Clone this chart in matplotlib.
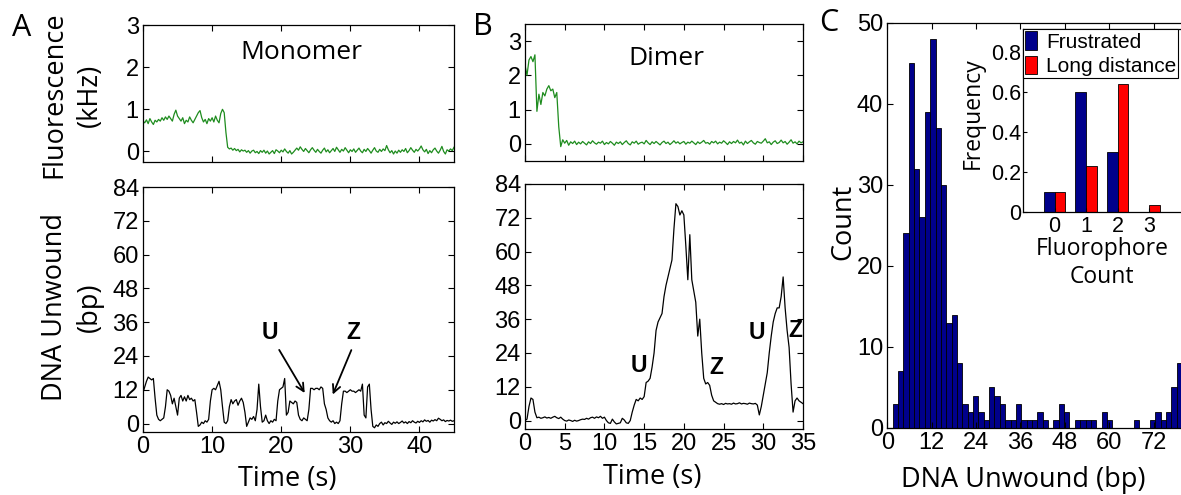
import numpy as np
import matplotlib
matplotlib.use('Agg')
import matplotlib.pyplot as plt

# ---------------- data ----------------
dt = 0.25  # sampling interval of the traces (s)

mono_fluor = [0.72, 0.68, 0.75, 0.66, 0.78, 0.70, 0.64, 0.74, 0.70, 0.76,
              0.72, 0.80, 0.74, 0.82, 0.76, 0.84, 0.78, 0.72, 0.88, 0.98,
              0.84, 0.78, 0.72, 0.80, 0.66, 0.74, 0.70, 0.82, 0.74, 0.68,
              0.76, 0.84, 0.92, 0.97, 0.80, 0.70, 0.76, 0.66, 0.78, 0.72,
              0.80, 0.70, 0.84, 0.74, 0.68, 0.90, 1.00, 0.92, 0.45,
              0.10, 0.06, 0.08, 0.03, 0.07, 0.02, 0.05, -0.01, 0.04, 0.01,
              0.03, -0.02, 0.02, -0.04, 0.01, 0.03, -0.03, 0.00, -0.05, 0.02,
              -0.02, 0.03, -0.04, 0.01, -0.06, -0.02, 0.02, -0.05, 0.04, 0.01,
              -0.03, 0.03, -0.01, 0.06, 0.00, -0.04, 0.02, -0.06, -0.02, 0.03,
              0.08, 0.03, 0.11, 0.05, 0.00, 0.07, 0.02, -0.03, 0.04, 0.09,
              0.03, -0.02, 0.05, 0.00, -0.04, 0.03, 0.08, -0.01, 0.04, -0.03,
              0.02, 0.07, 0.00, 0.10, 0.04, -0.02, 0.05, 0.01, 0.09, 0.03,
              -0.03, 0.04, 0.00, 0.06, -0.02, 0.03, 0.08, 0.01, -0.03, 0.05,
              0.00, 0.07, 0.02, -0.04, 0.03, 0.09, 0.01, -0.02, 0.05, 0.00,
              0.06, 0.02, 0.14, 0.04, -0.03, 0.02, -0.06, 0.01, -0.04, 0.03,
              -0.02, 0.04, 0.00, 0.07, -0.03, 0.02, 0.09, 0.03, -0.02, 0.05,
              0.01, 0.06, 0.13, 0.04, -0.01, 0.05, -0.05, 0.02, -0.03, 0.04,
              0.08, 0.01, -0.04, 0.03, 0.12, 0.00, -0.06, 0.04, 0.01, 0.06,
              0.02, 0.10]

mono_unwound = [11, 13, 15, 16.5, 16, 15.5, 16, 9, 3, 1.5,
                1, 1.5, 2, 6, 12, 11.5, 10, 7, 9, 6,
                3, 9, 10, 8, 9.5, 8, 10, 8.5, 9, 8,
                8.5, 4, -1, -0.5, 0.5, 0, 1, 0.5, 1.5, 8,
                12, 12.5, 12, 13.5, 15, 12, 6, 0.5, 0, 1,
                6, 8.5, 7, 8, 8.5, 6.5, 8, 9, 7.5, 4,
                -1, 0.5, 2, 1.5, 2.5, 1, 5, 14, 6, 0.5,
                1, 3, 1, 0, 1, 0.5, 1.5, 1, 8, 12,
                12.5, 13, 16, 3, 4, 8, 7.5, 7, 8, 7.5,
                3, 1.5, 1, 2, 1.5, 1, 5, 12.5, 12.5, 12,
                12.5, 12.5, 12, 13, 12.5, 7, 5, 2, 1, 0.5,
                1, 0, 0.5, 0, 1, 7, 11.5, 11.5, 11, 11.5,
                12, 11.5, 11.5, 11, 11.5, 12, 11.5, 14, 3, 2,
                13, 14, 5, -1, -1.5, -0.5, -1, 0,
                0.5, -0.5, 0.3, 0, 0.8, 0.2, -0.3, 0.5, 0.1, 0.6, 0,
                0.4, 0.9, 0.2, 0.6, 0, 0.7, 0.3, 1.0, 0.5, 0.2, 0.8, 0.4,
                1.0, 0.6, 1.3, 0.8, 1.1, 0.5, 1.2, 0.9, 1.4, 1.0, 1.9, 1.5,
                1.0, 1.3, 0.7, 1.1, 0.9, 1.2, 0.8, 1.0]

dimer_fluor = [2.3, 2.0, 2.45, 2.55, 2.4, 2.6, 0.95, 1.45, 1.15, 1.5,
               1.4, 1.6, 1.7, 1.55, 1.6, 1.35, 1.5, 0.5, -0.08,
               0.12, 0.02, 0.10, -0.04, 0.06, 0.01, 0.08, -0.02, 0.05, 0.00,
               0.07, 0.02, -0.03, 0.06, 0.01, 0.09, 0.03, -0.01, 0.05, 0.02,
               0.08, -0.02, 0.04, 0.00, 0.07, 0.02, -0.04, 0.05, 0.01, 0.06,
               -0.02, 0.04, 0.09, 0.01, -0.03, 0.06, 0.02, 0.08, -0.01, 0.03,
               0.05, 0.00, 0.10, 0.03, -0.02, 0.06, 0.01, 0.07, 0.02, -0.03,
               0.04, 0.08, 0.01, 0.05, -0.02, 0.03, 0.09, 0.02, 0.06, 0.00,
               0.04, 0.07, -0.01, 0.05, 0.02, 0.08, 0.03, -0.02, 0.06, 0.01,
               0.05, 0.10, 0.02, 0.04, -0.01, 0.07, 0.03, 0.08, 0.00, 0.05,
               0.02, 0.09, 0.04, -0.02, 0.06, 0.01, 0.07, 0.03, 0.11, 0.02,
               0.05, -0.03, 0.08, 0.01, 0.06, 0.10, 0.03, -0.01, 0.07, 0.04,
               0.02, 0.08, 0.15, 0.03, 0.06, -0.02, 0.05, 0.09, 0.01, 0.04,
               0.11, 0.03, 0.07, -0.01, 0.05, 0.12, 0.02, 0.06, 0.00, 0.08,
               0.03, 0.06]

dimer_unwound = [0, 0.5, 5, 8, 7.5, 3, 1, 1.2, 0.8, 1,
                 1.3, 0.9, 1.1, 0.8, 1.2, 1.5, 1.0, 0.7, 1.2, 0.5,
                 0, -0.2, 0.2, 0, -0.3, 0.1, -0.2, 0, 0.3, 0.5,
                 0.4, 0.8, 0.5, 1.0, 1.2, 0.8, 1.3, 1.0, 1.5, 0.8,
                 1.2, 0, -0.8, -1.0, 0.5, -0.5, -1.2, -1.0, -0.8, 0.8,
                 0.2, -0.8, -1.0, 0, 3, 5.5, 7.5, 7, 8, 7.5,
                 8.5, 13.5, 14, 15, 19, 24, 32, 35, 36.5, 38,
                 44, 48, 51, 54, 57, 68, 77, 76, 73, 74.5,
                 73, 62, 50, 66, 50, 46, 42, 30, 36, 24,
                 15, 13, 13.5, 12.5, 9, 7, 6.5, 6, 5.8, 6,
                 5.7, 6.1, 5.9, 6.0, 5.8, 6.2, 5.9, 6.0, 6.3, 5.9,
                 6.1, 6.0, 5.8, 6.2, 6.0, 5.9, 6.1, 5.5, 2, 5,
                 9, 13, 17, 24, 30, 35, 38, 40, 40, 44,
                 51, 40, 32, 26, 13, 3, 7, 8, 7, 6.5,
                 6]

# histogram of DNA unwound (bp): 58 bins over 0-84, visible part
hist_range = (0, 84)
hist_nbins = 58
hist_counts = [0, 3, 7, 24, 45, 32, 26, 39, 48, 37, 30, 13, 14, 8, 3, 2, 4, 2, 1, 5,
               4, 3, 1, 1, 3, 1, 1, 1, 2, 1, 0, 1, 3, 2, 0, 1, 1, 1, 1, 0,
               2, 1, 0, 0, 0, 0, 1, 0, 0, 1, 2, 1, 2, 5, 8]

fluor_counts = [0, 1, 2, 3]
freq_frustrated = [0.10, 0.60, 0.30, 0.0]
freq_long = [0.10, 0.23, 0.64, 0.034]

# ---------------- figure ----------------
W, H = 1181, 495
fig = plt.figure(figsize=(W / 100, H / 100), dpi=100)
plt.rcParams['font.family'] = ['Liberation Sans', 'DejaVu Sans']
LAB = ['Open Sans', 'DejaVu Sans']
TICK = 17
LABS = 19.5
GREEN = '#1e8c1e'


def box(l, t, r, b):
    return [l / W, 1 - b / H, (r - l) / W, (b - t) / H]


def style(ax, ls=TICK, length=4):
    ax.tick_params(direction='in', top=True, right=True, length=length,
                   width=0.8, labelsize=ls, pad=3)
    for s in ax.spines.values():
        s.set_linewidth(0.9)


def ftext(x, y, s, **kw):
    fig.text(x / W, 1 - y / H, s, ha='center', va='center', **kw)


# Panel A top
ax = fig.add_axes(box(143, 25, 454, 162))
t = np.arange(len(mono_fluor)) * dt
ax.plot(t, mono_fluor, color=GREEN, lw=0.9)
ax.set_xlim(0, 45)
ax.set_ylim(-0.25, 3)
ax.set_yticks([0, 1, 2, 3])
ax.set_xticks([0, 10, 20, 30, 40])
ax.set_xticklabels([])
style(ax)
ax.text(0.51, 0.80, 'Monomer', transform=ax.transAxes, ha='center', va='center',
        fontsize=19, family=LAB)

# Panel A bottom
ax = fig.add_axes(box(143, 187, 454, 432))
t = np.arange(len(mono_unwound)) * dt
ax.plot(t, mono_unwound, color='black', lw=0.9)
ax.set_xlim(0, 45)
ax.set_ylim(-3, 84)
ax.set_yticks(np.arange(0, 85, 12))
ax.set_xticks([0, 10, 20, 30, 40])
style(ax)
ax.text(18.4, 32.5, 'U', fontsize=16.5, fontweight='bold', ha='center', va='center')
ax.text(30.5, 32.5, 'Z', fontsize=16.5, fontweight='bold', ha='center', va='center')
ax.annotate('', xy=(23.6, 10), xytext=(19.5, 27),
            arrowprops=dict(arrowstyle='->', lw=1.3, color='black', mutation_scale=14))
ax.annotate('', xy=(27.3, 9.4), xytext=(30.3, 27),
            arrowprops=dict(arrowstyle='->', lw=1.3, color='black', mutation_scale=14))

# Panel B top
ax = fig.add_axes(box(525, 24, 803, 161))
t = np.arange(len(dimer_fluor)) * dt
ax.plot(t, dimer_fluor, color=GREEN, lw=0.9)
ax.set_xlim(0, 35)
ax.set_ylim(-0.5, 3.5)
ax.set_yticks([0, 1, 2, 3])
ax.set_xticks(np.arange(0, 36, 5))
ax.set_xticklabels([])
style(ax)
ax.text(0.51, 0.75, 'Dimer', transform=ax.transAxes, ha='center', va='center',
        fontsize=19, family=LAB)

# Panel B bottom
ax = fig.add_axes(box(525, 184, 803, 429))
t = np.arange(len(dimer_unwound)) * dt
ax.plot(t, dimer_unwound, color='black', lw=0.9)
ax.set_xlim(0, 35)
ax.set_ylim(-3, 84)
ax.set_yticks(np.arange(0, 85, 12))
ax.set_xticks(np.arange(0, 36, 5))
style(ax)
for (x, y, s) in [(14.3, 19.5, 'U'), (24.1, 18.9, 'Z'), (29.2, 31.3, 'U'), (34.0, 31.9, 'Z')]:
    ax.text(x, y, s, fontsize=16.5, fontweight='bold', ha='center', va='center')

# Panel C main histogram
ax = fig.add_axes(box(887.3, 22.7, 1198, 428))
edges = np.linspace(hist_range[0], hist_range[1], hist_nbins + 1)
bw = edges[1] - edges[0]
ax.bar(edges[:len(hist_counts)], hist_counts, width=bw, align='edge',
       color='#00008B', edgecolor='black', linewidth=0.6)
ax.set_xlim(0, 84)
ax.set_ylim(0, 50)
ax.set_xticks(np.arange(0, 73, 12))
ax.set_yticks(np.arange(0, 51, 10))
style(ax)

# Inset
axi = fig.add_axes(box(1023, 29, 1186, 212))
xc = np.array(fluor_counts)
axi.bar(xc - 0.17, freq_frustrated, width=0.34, color='#00008B',
        edgecolor='black', linewidth=0.6, label='Frustrated')
axi.bar(xc + 0.17, freq_long, width=0.34, color='#FF0000',
        edgecolor='black', linewidth=0.6, label='Long distance')
axi.set_xlim(-1, 4.17)
axi.set_ylim(0, 0.915)
axi.set_xticks(fluor_counts)
axi.set_yticks([0, 0.2, 0.4, 0.6, 0.8])
axi.set_yticklabels(['0', '0.2', '0.4', '0.6', '0.8'])
style(axi, ls=15.5, length=3)
axi.tick_params(axis='y', pad=1.5)
leg = axi.legend(loc='upper left', borderaxespad=0, fontsize=15, handlelength=0.55,
                 handleheight=1.0, handletextpad=0.45, borderpad=0.1,
                 labelspacing=0.2, fancybox=False, framealpha=1, edgecolor='black')
leg.get_frame().set_linewidth(0.8)

# ---------------- labels ----------------
ftext(72.5, 95, 'Fluorescence\n(kHz)', rotation=90, fontsize=LABS, family=LAB, linespacing=1.35)
ftext(72.5, 307, 'DNA Unwound\n(bp)', rotation=90, fontsize=LABS, family=LAB, linespacing=1.35)
ftext(287, 479, 'Time (s)', fontsize=LABS, family=LAB)
ftext(652, 477, 'Time (s)', fontsize=LABS, family=LAB)
ftext(843, 222, 'Count', rotation=90, fontsize=LABS, family=LAB)
ftext(1023, 480, 'DNA Unwound (bp)', fontsize=LABS, family=LAB)
ftext(973, 113, 'Frequency', rotation=90, fontsize=16.5, family=LAB)
ftext(1102, 263, 'Fluorophore\nCount', fontsize=16.5, family=LAB, linespacing=1.2)
ftext(22, 28, 'A', fontsize=22, family=LAB)
ftext(483, 27, 'B', fontsize=22, family=LAB)
ftext(829, 23, 'C', fontsize=22, family=LAB)

fig.savefig('out.png', dpi=100)
